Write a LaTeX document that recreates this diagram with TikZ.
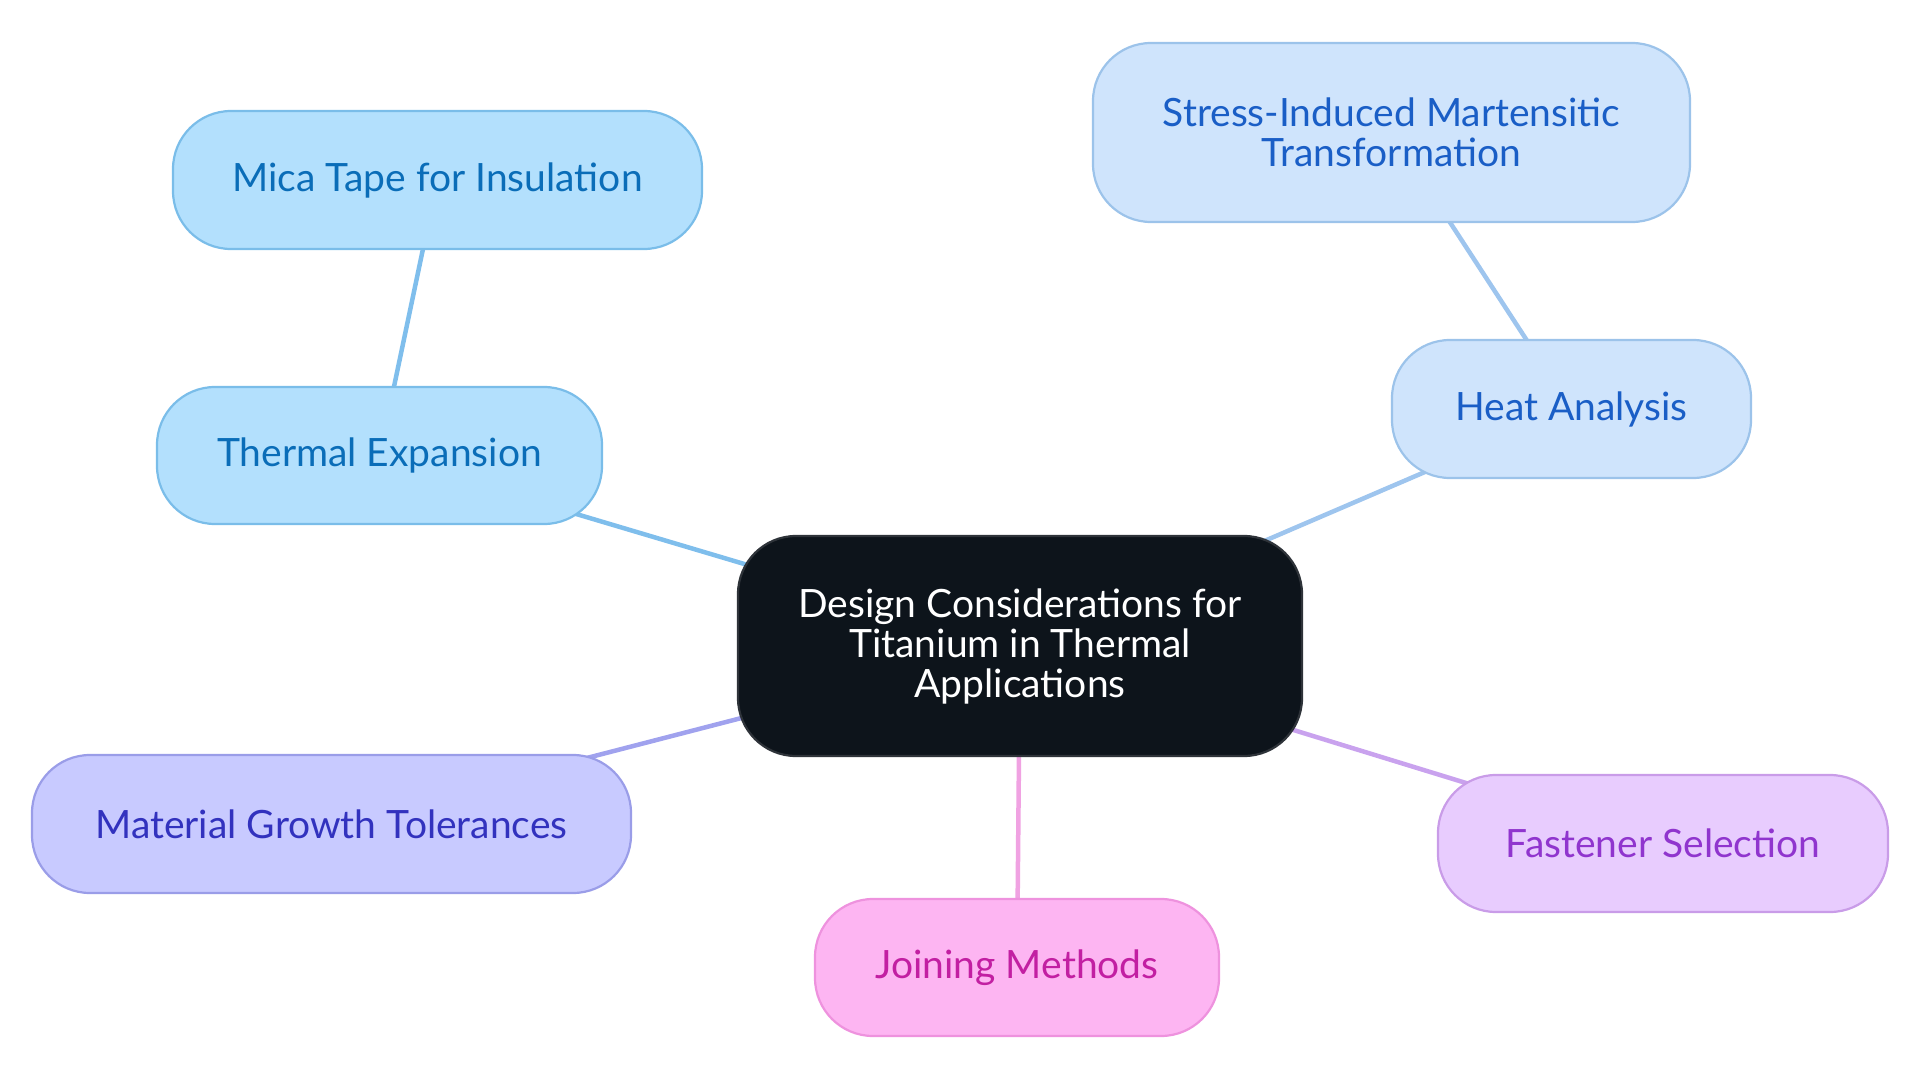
\documentclass[tikz,border=0pt]{standalone}
\usepackage{fontspec}
\setmainfont{Lato}
\usetikzlibrary{backgrounds}
\definecolor{ctrfill}{HTML}{0D141B}
\definecolor{ctrdraw}{HTML}{2E3339}
\definecolor{aFill}{HTML}{B3E0FD}
\definecolor{aDraw}{HTML}{7ABDE9}
\definecolor{aText}{HTML}{0A6DB8}
\definecolor{aEdge}{HTML}{7FBEEC}
\definecolor{bFill}{HTML}{CFE4FC}
\definecolor{bDraw}{HTML}{9CC3EA}
\definecolor{bText}{HTML}{1A5EC6}
\definecolor{bEdge}{HTML}{9EC5EE}
\definecolor{cFill}{HTML}{C8CAFF}
\definecolor{cDraw}{HTML}{9A9DE8}
\definecolor{cText}{HTML}{3232BE}
\definecolor{cEdge}{HTML}{A0A2EE}
\definecolor{dFill}{HTML}{FDB5F2}
\definecolor{dDraw}{HTML}{EE92DE}
\definecolor{dText}{HTML}{C21FA2}
\definecolor{dEdge}{HTML}{F0A2E2}
\definecolor{eFill}{HTML}{E8CCFE}
\definecolor{eDraw}{HTML}{C99CE8}
\definecolor{eText}{HTML}{9035CE}
\definecolor{eEdge}{HTML}{C9A2EE}
\begin{document}
\begin{tikzpicture}[x=1pt,y=-1pt,
  box/.style={rectangle, rounded corners=58pt, line width=2.2pt, align=center, inner sep=0pt,
    font=\fontsize{39}{40}\selectfont},
  conn/.style={line width=4.5pt}]
\useasboundingbox (0,0) rectangle (1920,1083);
\node[box, fill=ctrfill, draw=ctrdraw, text=white, minimum width=564pt, minimum height=220pt] (ctr) at (1020,646) {Design Considerations for\\Titanium in Thermal\\Applications};
\node[box, fill=aFill, draw=aDraw, text=aText, minimum width=529pt, minimum height=138pt] (mica) at (437.5,180) {Mica Tape for Insulation};
\node[box, fill=aFill, draw=aDraw, text=aText, minimum width=445pt, minimum height=137pt] (therm) at (379.5,455.5) {Thermal Expansion};
\node[box, fill=bFill, draw=bDraw, text=bText, minimum width=597pt, minimum height=179pt] (stress) at (1391.5,132.5) {Stress-Induced Martensitic\\Transformation};
\node[box, fill=bFill, draw=bDraw, text=bText, minimum width=359pt, minimum height=138pt] (heat) at (1571.5,409) {Heat Analysis};
\node[box, fill=cFill, draw=cDraw, text=cText, minimum width=599pt, minimum height=138pt] (mat) at (331.5,824) {Material Growth Tolerances};
\node[box, fill=dFill, draw=dDraw, text=dText, minimum width=404pt, minimum height=137pt] (join) at (1017,967.5) {Joining Methods};
\node[box, fill=eFill, draw=eDraw, text=eText, minimum width=450pt, minimum height=137pt] (fast) at (1663,843.5) {Fastener Selection};
\begin{scope}[on background layer]
\draw[conn, aEdge] (mica.center) -- (therm.center);
\draw[conn, aEdge] (therm.center) -- (ctr.center);
\draw[conn, bEdge] (stress.center) -- (heat.center);
\draw[conn, bEdge] (heat.center) -- (ctr.center);
\draw[conn, cEdge] (mat.center) -- (ctr.center);
\draw[conn, dEdge] (join.center) -- (ctr.center);
\draw[conn, eEdge] (fast.center) -- (ctr.center);
\end{scope}
\end{tikzpicture}
\end{document}
